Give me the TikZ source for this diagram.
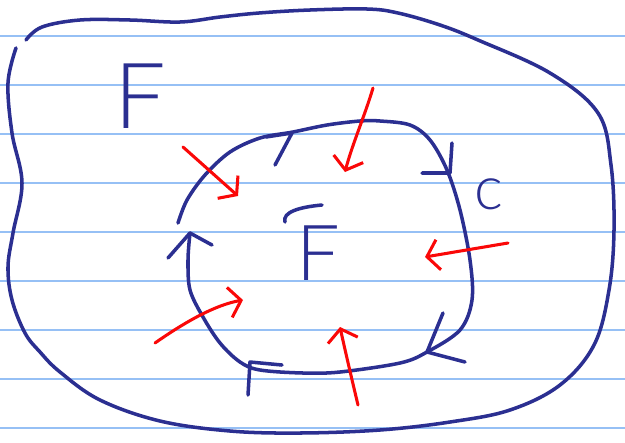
\documentclass[tikz,border=0pt]{standalone}
\usepackage{fontspec}
\setmainfont{Liberation Sans}
\newfontfamily\handfont{Lato Light}
\usetikzlibrary{arrows.meta}
\definecolor{ink}{RGB}{43,47,145}
\definecolor{paperline}{RGB}{150,192,245}
\definecolor{pen}{RGB}{250,8,8}
\tikzset{
  inkline/.style={ink, line width=3pt, line cap=round, line join=round},
  penarrow/.style={pen, line width=2.6pt, line cap=round, line join=round,
    -{Straight Barb[length=10pt,width=26pt,line width=2.6pt]}},
  inktext/.style={ink, inner sep=0pt}
}

\begin{document}
\begin{tikzpicture}[x=0.03cm,y=-0.03cm]
\useasboundingbox (0,0) rectangle (625,442);
\fill[white] (0,0) rectangle (625,442);

\foreach \ypos in {36,85,134,183,232,281,330,379,428}{
    \draw[paperline, line width=1.1pt] (0,\ypos) -- (625,\ypos);
}

\draw[inkline] plot[smooth, tension=0.6] coordinates {
  (26,40) (42,27) (80,20) (130,20) (180,22) (220,17) (259,13) (310,10)
  (367,9) (398,13) (440,25) (478,40) (550,73) (598,113) (611,165)
  (614,230) (609,290) (594,345) (560,385) (510,410) (450,422) (380,430)
  (300,433) (230,431) (160,421) (100,400) (60,372) (40,352) (25,333)
  (12,300) (8,267) (13,233) (22,183) (12,133) (8,83) (16,48)};

\draw[inkline] plot[smooth, tension=0.55] coordinates {
  (190,233) (188,260) (190,290) (203,317) (220,343) (240,362) (260,370)
  (303,373) (340,372) (400,363) (427,352) (460,330) (472,300) (470,260)
  (460,210) (447,170) (430,140) (410,125) (380,121) (360,121) (327,125)
  (293,132) (260,138) (230,152) (205,175) (187,200) (178,223)};

\foreach \tip/\barba/\barbb in {%
    {292,133}/{275,165}/{266,137},%
    {450,173}/{452,143}/{422,173},%
    {427,352}/{443,313}/{465,362},%
    {250,362}/{248,395}/{282,365},%
    {190,233}/{168,258}/{212,245}%
}{
    \draw[inkline] (\barba) -- (\tip) -- (\barbb);
}

\draw[penarrow] (183,147) -- (238,196);
\draw[penarrow] (373,88) .. controls (365,115) and (352,145) .. (345,172);
\draw[penarrow] (508,243) -- (425,257);
\draw[penarrow] (155,343) .. controls (185,322) and (215,305) .. (243,300);
\draw[penarrow] (358,405) .. controls (352,380) and (345,350) .. (340,327);

\node[inktext, font=\handfont\fontsize{78}{78}\selectfont] (outerF) at (140,96) {F};
\node[inktext, font=\handfont\fontsize{66}{66}\selectfont] (innerF) at (318,253) {F};
\draw[inkline] (285,222) .. controls (282,212) and (300,207) .. (322,205);
\node[inktext, font=\handfont\fontsize{52}{52}\selectfont] (curveC) at (489,194) {c};
\end{tikzpicture}
\end{document}
